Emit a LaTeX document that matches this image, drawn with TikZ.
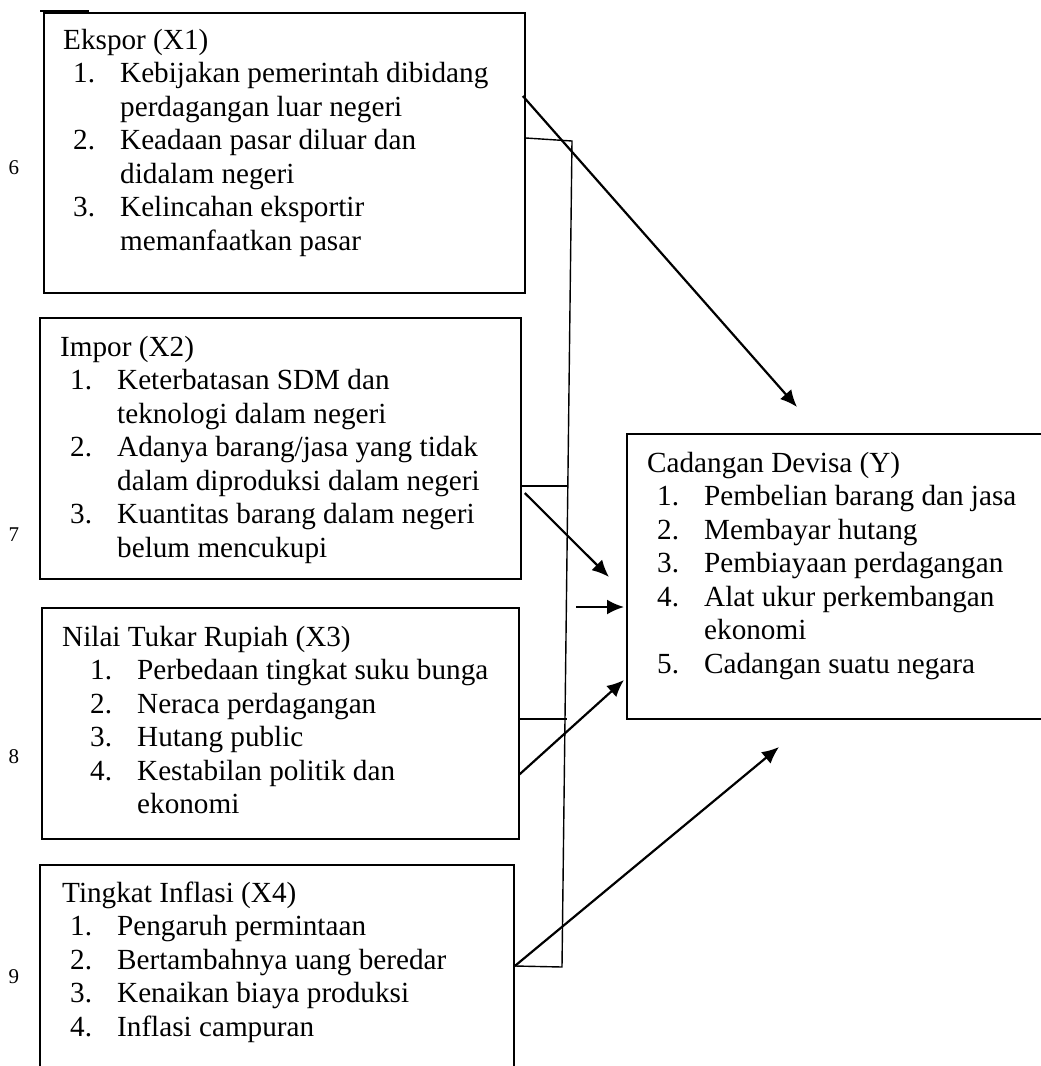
\documentclass[tikz,border=0pt]{standalone}
\usepackage{fontspec}
\setmainfont{Liberation Serif}
\usetikzlibrary{arrows.meta,calc}

\newcommand{\nitem}[2]{\hspace*{#1}\makebox[47pt][l]{#2}}
\newcommand{\ncont}[1]{\hspace*{\dimexpr#1+47pt\relax}}

\begin{document}
\begin{tikzpicture}[x=1pt, y=-1pt,
    box/.style={draw, line width=1.8pt, anchor=north west, inner sep=0pt},
    txt/.style={anchor=north west, inner sep=0pt, align=left, font=\fontsize{29.2}{33.5}\selectfont},
    num/.style={font=\fontsize{21}{24}\selectfont},
    arr/.style={-{Latex[length=17pt,width=15pt]}, line width=2.2pt},
    link/.style={line width=1.4pt}]
  \useasboundingbox (0,0) rectangle (1041,1066);
  \clip (0,0) rectangle (1041,1066);

  % boxes
  \node[box, minimum width=481pt, minimum height=280pt] (ex) at (43,12) {};
  \node[box, minimum width=481pt, minimum height=261pt] (im) at (39,317) {};
  \node[box, minimum width=477pt, minimum height=231pt] (nt) at (41,607) {};
  \node[box, minimum width=474pt, minimum height=230pt] (ti) at (39,864) {}; % runs off the page
  \node[box, minimum width=450pt, minimum height=285pt] (yb) at (626,433) {};
  \draw[line width=2.6pt] (40,11) -- (89,11);

  \node[txt] (exT) at (63,25.5) {\strut Ekspor (X1)\\
    \nitem{10pt}{1.}Kebijakan pemerintah dibidang\\
    \ncont{10pt}perdagangan luar negeri\\
    \nitem{10pt}{2.}Keadaan pasar diluar dan\\
    \ncont{10pt}didalam negeri\\
    \nitem{10pt}{3.}Kelincahan eksportir\\
    \ncont{10pt}memanfaatkan pasar};
  \node[txt] (imT) at (60,332.5) {\strut Impor (X2)\\
    \nitem{10pt}{1.}Keterbatasan SDM dan\\
    \ncont{10pt}teknologi dalam negeri\\
    \nitem{10pt}{2.}Adanya barang/jasa yang tidak\\
    \ncont{10pt}dalam diproduksi dalam negeri\\
    \nitem{10pt}{3.}Kuantitas barang dalam negeri\\
    \ncont{10pt}belum mencukupi};
  \node[txt] (ntT) at (62,622.5) {\strut Nilai Tukar Rupiah (X3)\\
    \nitem{28pt}{1.}Perbedaan tingkat suku bunga\\
    \nitem{28pt}{2.}Neraca perdagangan\\
    \nitem{28pt}{3.}Hutang public\\
    \nitem{28pt}{4.}Kestabilan politik dan\\
    \ncont{28pt}ekonomi};
  \node[txt] (tiT) at (62,878.5) {\strut Tingkat Inflasi (X4)\\
    \nitem{8pt}{1.}Pengaruh permintaan\\
    \nitem{8pt}{2.}Bertambahnya uang beredar\\
    \nitem{8pt}{3.}Kenaikan biaya produksi\\
    \nitem{8pt}{4.}Inflasi campuran};
  \node[txt] (ybT) at (647,448.5) {\strut Cadangan Devisa (Y)\\
    \nitem{10pt}{1.}Pembelian barang dan jasa\\
    \nitem{10pt}{2.}Membayar hutang\\
    \nitem{10pt}{3.}Pembiayaan perdagangan\\
    \nitem{10pt}{4.}Alat ukur perkembangan\\
    \ncont{10pt}ekonomi\\
    \nitem{10pt}{5.}Cadangan suatu negara};

  \node[num] (n6) at (14,168) {6};
  \node[num] (n7) at (14,535) {7};
  \node[num] (n8) at (14,757) {8};
  \node[num] (n9) at (14,977) {9};

  % free ends
  \coordinate (t1) at (797,407);
  \coordinate (t2) at (609,577);
  \coordinate (s3) at (576,607);
  \coordinate (t5) at (779,747);
  \coordinate (b1) at (572,141);
  \coordinate (b2) at (568,486);
  \coordinate (b3) at (567,719);
  \coordinate (b4) at (562,967);

  \draw[link] ($(ex.north east)+(0,126)$) -- (b1) -- (b4) -- ($(ti.north east)+(0,102)$);
  \draw[link] ($(im.north east)+(0,169)$) -- (b2);
  \draw[link] ($(nt.north east)+(0,112)$) -- (b3);

  \draw[arr] ($(ex.north east)+(-3,84)$) -- (t1);
  \draw[arr] ($(im.north east)+(3,176)$) -- (t2);
  \draw[arr] (s3) -- ($(yb.north west)+(-2,174)$);
  \draw[arr] ($(nt.north east)+(-1,168)$) -- ($(yb.north west)+(-2,247)$);
  \draw[arr] ($(ti.north east)+(0,102)$) -- (t5);
\end{tikzpicture}
\end{document}
